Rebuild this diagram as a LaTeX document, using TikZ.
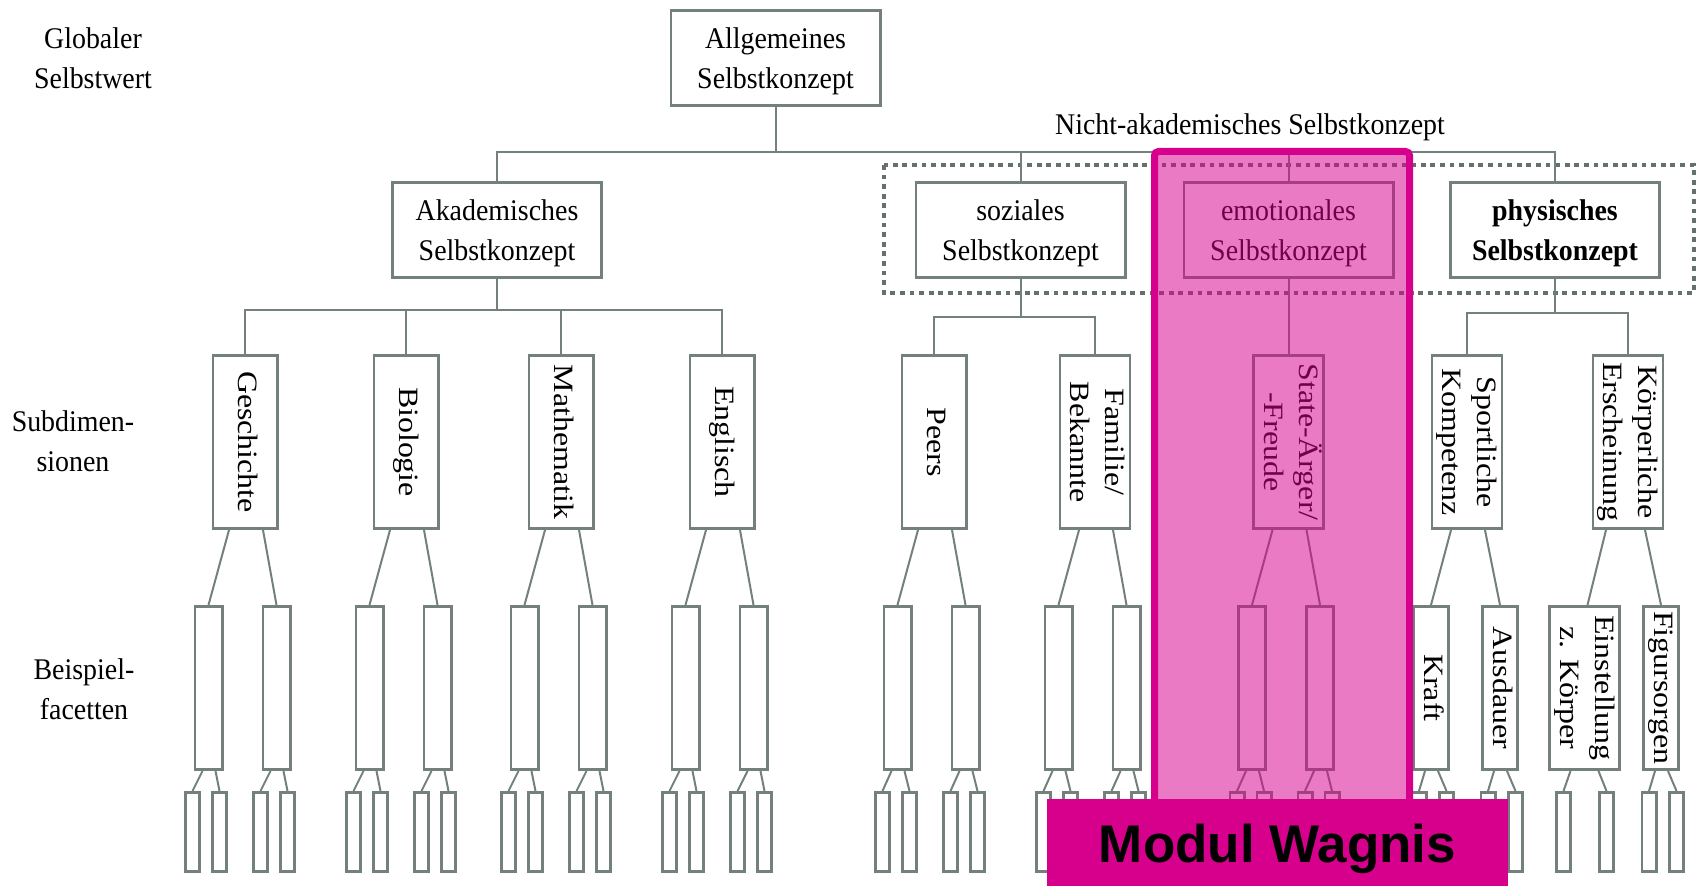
\documentclass[tikz,border=0pt]{standalone}
\usepackage{fontspec}
\setmainfont{Liberation Serif}
\newfontfamily\condserif[FakeStretch=0.93]{Liberation Serif}
\newfontfamily\tallserif[FakeStretch=1.14]{Liberation Serif}
\newfontfamily\headsans{Liberation Sans}
\usetikzlibrary{calc}
\definecolor{treegray}{HTML}{74807B}
\definecolor{framegray}{HTML}{65716C}
\definecolor{wagnis}{HTML}{D6008C}
% vertical (top-to-bottom) label, one or more lines
\newcommand\rottext[1]{\rotatebox{-90}{\begin{tabular}{@{}c@{}}#1\end{tabular}}}
% two facets below a subdimension
\newcommand\facetpair[2]{%
  \node[facet] (#1A) at (#2-36.5,688) {};
  \node[facet] (#1B) at (#2+31.5,688) {};
  \draw[conn] ([xshift=-8pt]#1.south) -- (#1A.north);
  \draw[conn] ([xshift=9pt]#1.south) -- (#1B.north);
}
% two sub-facets below a facet
\newcommand\facetsubs[3]{%
  \node[subfacet] (#1a) at ($(#1.center)+(#2,144)$) {};
  \node[subfacet] (#1b) at ($(#1.center)+(#3,144)$) {};
  \draw[conn] ([xshift=-3pt]#1.south) -- (#1a.north);
  \draw[conn] ([xshift=3.5pt]#1.south) -- (#1b.north);
}
\begin{document}
\begin{tikzpicture}[x=0.5pt,y=-0.5pt,
  conn/.style={draw=treegray, line width=1pt},
  box/.style={draw=treegray, line width=1.3pt, fill=white, inner sep=0pt},
  bigbox/.style={box, minimum width=104.7pt, minimum height=47.7pt, align=center,
    text depth=0pt, font=\condserif\fontsize{15}{20}\selectfont},
  subbox/.style={box, minimum width=32.2pt, minimum height=86.7pt,
    font=\tallserif\fontsize{14}{17.5}\selectfont},
  facet/.style={box, minimum width=13.7pt, minimum height=81.7pt,
    font=\tallserif\fontsize{14}{17.5}\selectfont},
  subfacet/.style={box, minimum width=7.2pt, minimum height=39.7pt},
  sidelabel/.style={align=center, inner sep=0pt, font=\condserif\fontsize{15}{20}\selectfont}]

\useasboundingbox (0,0) rectangle (1698,886);

% side labels
\node[sidelabel] (lglob) at (93,58) {Globaler\\Selbstwert};
\node[sidelabel] (lsub) at (73,441) {Subdimen-\\sionen};
\node[sidelabel] (lbsp) at (84,689) {Beispiel-\\facetten};
\node[sidelabel, anchor=base] (lnak) at (1250,135) {Nicht-akademisches Selbstkonzept};

% frame around the non-academic part
\draw[framegray, line width=1.6pt, dash pattern=on 2.4pt off 2.4pt] (884,165) rectangle (1694,293);

% top levels
\node[bigbox] (allg) at (775.5,58) {Allgemeines\\Selbstkonzept};
\node[bigbox] (akad) at (497,230) {Akademisches\\Selbstkonzept};
\node[bigbox] (soz) at (1020.5,230) {soziales\\Selbstkonzept};
\node[bigbox] (emo) at (1288.5,230) {emotionales\\Selbstkonzept};
\node[bigbox, font=\condserif\bfseries\fontsize{15}{20}\selectfont] (phys) at (1555,230) {physisches\\Selbstkonzept};

% subdimensions
\node[subbox] (gesch) at (245,442) {\rottext{Geschichte}};
\node[subbox] (bio) at (406,442) {\rottext{Biologie}};
\node[subbox] (math) at (561,442) {\rottext{Mathematik}};
\node[subbox] (engl) at (722,442) {\rottext{Englisch}};
\node[subbox] (peers) at (934,442) {\rottext{Peers}};
\node[subbox] (fam) at (1095,442) {\rottext{Familie/\\Bekannte}};
\node[subbox] (state) at (1288.5,442) {\rottext{State-Ärger/\\-Freude}};
\node[subbox] (sport) at (1467,442) {\rottext{Sportliche\\Kompetenz}};
\node[subbox] (koerp) at (1628,442) {\rottext{Körperliche\\Erscheinung}};

% tree connectors
\coordinate (bus0) at (775.5,152);
\draw[conn] (allg.south) -- (bus0);
\draw[conn] (akad.north) -- (akad.north |- bus0) -- (phys.north |- bus0) -- (phys.north);
\draw[conn] (soz.north) -- (soz.north |- bus0);
\draw[conn] (emo.north) -- (emo.north |- bus0);

\coordinate (busA) at (497,310);
\draw[conn] (akad.south) -- (busA);
\draw[conn] (gesch.north) -- (gesch.north |- busA) -- (engl.north |- busA) -- (engl.north);
\draw[conn] (bio.north) -- (bio.north |- busA);
\draw[conn] (math.north) -- (math.north |- busA);

\coordinate (busS) at (1020.5,317);
\draw[conn] (soz.south) -- (busS);
\draw[conn] (peers.north) -- (peers.north |- busS) -- (fam.north |- busS) -- (fam.north);

\draw[conn] (emo.south) -- (state.north);

\coordinate (busP) at (1555,313);
\draw[conn] (phys.south) -- (busP);
\draw[conn] (sport.north) -- (sport.north |- busP) -- (koerp.north |- busP) -- (koerp.north);

% facets and sub-facets
\facetpair{gesch}{245}
\facetpair{bio}{406}
\facetpair{math}{561}
\facetpair{engl}{722}
\facetpair{peers}{934}
\facetpair{fam}{1095}
\facetpair{state}{1288.5}
\foreach \f in {geschA,geschB,bioA,bioB,mathA,mathB,englA,englB}{\facetsubs{\f}{-16}{11}}
\foreach \f in {peersA,peersB,famA,famB,stateA,stateB}{\facetsubs{\f}{-15}{12}}

\node[facet] (kraft) at (1431,688) {\rottext{Kraft}};
\node[facet] (ausd) at (1500,688) {\rottext{Ausdauer}};
\node[facet, minimum width=29.2pt] (einst) at (1584.5,688) {\rottext{Einstellung\\z. Körper}};
\node[facet] (figur) at (1661,688) {\rottext{Figursorgen}};
\draw[conn] ([xshift=-8pt]sport.south) -- (kraft.north);
\draw[conn] ([xshift=9pt]sport.south) -- (ausd.north);
\draw[conn] ([xshift=-11pt]koerp.south) -- ([xshift=1.5pt]einst.north);
\draw[conn] ([xshift=8.5pt]koerp.south) -- (figur.north);
\foreach \f in {kraft,ausd,figur}{\facetsubs{\f}{-12}{15.5}}
\node[subfacet] (einsta) at (1563.5,832) {};
\node[subfacet] (einstb) at (1606.5,832) {};
\draw[conn] ([xshift=-7pt]einst.south) -- (einsta.north);
\draw[conn] ([xshift=7pt]einst.south) -- (einstb.north);

% highlighted column
\draw[wagnis, line width=3.5pt, rounded corners=2pt, fill=wagnis, fill opacity=0.52]
  (1154.5,151.5) rectangle (1409.5,830);

% module banner
\node[fill=wagnis, inner sep=0pt, minimum width=230.5pt, minimum height=46pt, anchor=north west]
  (modul) at (1047,799) {};
\node[anchor=base, inner sep=0pt, font=\headsans\bfseries\fontsize{26.5}{30}\selectfont]
  (modultext) at (1277.5,863) {Modul Wagnis};
\end{tikzpicture}
\end{document}
